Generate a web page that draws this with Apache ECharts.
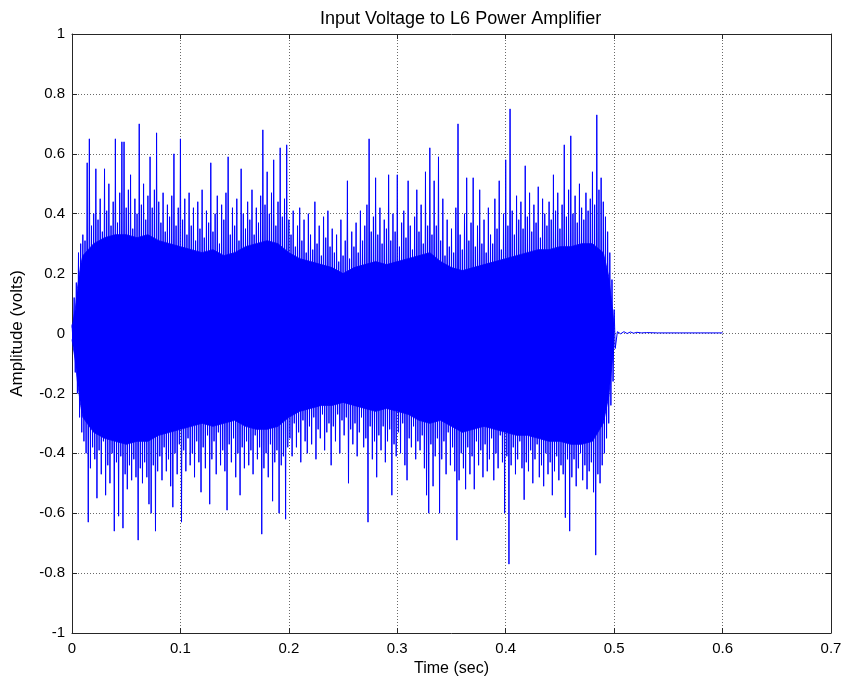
<!DOCTYPE html>
<html>
<head>
<meta charset="utf-8">
<script src="https://cdn.jsdelivr.net/npm/echarts@6/dist/echarts.min.js"></script>
<style>
html,body{margin:0;padding:0;background:#fff;}
#chart{width:846px;height:685px;}
</style>
</head>
<body>
<div id="chart"></div>
<script>
// Upper peaks of the signal, one every 2 ms starting at t = 0.000 s
const upperPeaks = [
  0.03,0.12,0.17,0.27,0.30,0.33,0.31,0.57,0.65,0.36,
  0.40,0.55,0.38,0.45,0.34,0.55,0.41,0.50,0.36,0.44,
  0.65,0.37,0.47,0.64,0.64,0.42,0.48,0.53,0.35,0.45,
  0.40,0.70,0.43,0.50,0.38,0.46,0.59,0.42,0.48,0.67,
  0.44,0.37,0.47,0.34,0.43,0.39,0.46,0.60,0.36,0.42,
  0.65,0.38,0.45,0.33,0.47,0.36,0.42,0.31,0.44,0.35,
  0.48,0.32,0.41,0.37,0.57,0.34,0.40,0.46,0.30,0.43,
  0.38,0.47,0.59,0.33,0.42,0.36,0.45,0.31,0.55,0.40,
  0.35,0.44,0.38,0.48,0.33,0.42,0.37,0.46,0.68,0.43,
  0.54,0.40,0.47,0.58,0.36,0.44,0.62,0.39,0.45,0.63,
  0.38,0.33,0.41,0.29,0.36,0.42,0.31,0.38,0.27,0.40,
  0.33,0.28,0.44,0.30,0.36,0.26,0.39,0.32,0.41,0.29,
  0.35,0.27,0.33,0.24,0.38,0.26,0.31,0.51,0.25,0.34,
  0.29,0.37,0.27,0.41,0.31,0.36,0.43,0.65,0.34,0.39,
  0.52,0.33,0.42,0.30,0.38,0.35,0.53,0.31,0.40,0.34,
  0.53,0.29,0.37,0.41,0.32,0.51,0.36,0.28,0.39,0.48,
  0.34,0.43,0.30,0.54,0.36,0.62,0.33,0.51,0.36,0.59,
  0.31,0.45,0.26,0.38,0.29,0.35,0.27,0.42,0.70,0.33,
  0.28,0.40,0.52,0.31,0.37,0.52,0.29,0.36,0.48,0.30,
  0.38,0.27,0.42,0.33,0.30,0.45,0.35,0.51,0.28,0.40,
  0.58,0.36,0.75,0.41,0.33,0.46,0.38,0.44,0.35,0.56,
  0.39,0.47,0.34,0.43,0.37,0.49,0.32,0.45,0.40,0.36,
  0.44,0.38,0.53,0.41,0.47,0.35,0.43,0.63,0.39,0.48,
  0.66,0.40,0.46,0.37,0.50,0.42,0.38,0.47,0.41,0.45,
  0.54,0.43,0.73,0.48,0.52,0.44,0.39,0.34,0.27,0.18
];
// Lower peaks of the signal, one every 2 ms starting at t = 0.001 s
const lowerPeaks = [
  -0.03,-0.13,-0.20,-0.28,-0.33,-0.36,-0.40,-0.63,-0.45,-0.38,
  -0.42,-0.55,-0.39,-0.47,-0.36,-0.54,-0.44,-0.50,-0.40,-0.66,
  -0.43,-0.61,-0.41,-0.65,-0.47,-0.52,-0.44,-0.49,-0.42,-0.48,
  -0.69,-0.45,-0.50,-0.43,-0.48,-0.57,-0.60,-0.44,-0.66,-0.46,
  -0.41,-0.49,-0.38,-0.46,-0.42,-0.51,-0.58,-0.40,-0.47,-0.37,
  -0.63,-0.39,-0.46,-0.35,-0.44,-0.40,-0.48,-0.36,-0.43,-0.53,
  -0.38,-0.45,-0.34,-0.57,-0.42,-0.36,-0.47,-0.33,-0.44,-0.39,
  -0.46,-0.59,-0.37,-0.43,-0.35,-0.48,-0.40,-0.54,-0.38,-0.45,
  -0.36,-0.44,-0.39,-0.47,-0.34,-0.42,-0.38,-0.67,-0.45,-0.40,
  -0.48,-0.37,-0.56,-0.43,-0.39,-0.60,-0.44,-0.41,-0.62,-0.38,
  -0.35,-0.41,-0.30,-0.38,-0.33,-0.43,-0.29,-0.36,-0.40,-0.31,
  -0.37,-0.28,-0.42,-0.32,-0.35,-0.27,-0.39,-0.33,-0.30,-0.44,
  -0.31,-0.36,-0.27,-0.40,-0.29,-0.34,-0.28,-0.50,-0.32,-0.37,
  -0.30,-0.41,-0.33,-0.28,-0.38,-0.35,-0.63,-0.31,-0.42,-0.36,
  -0.48,-0.34,-0.39,-0.31,-0.43,-0.36,-0.32,-0.54,-0.37,-0.41,
  -0.33,-0.40,-0.30,-0.44,-0.49,-0.35,-0.38,-0.31,-0.42,-0.36,
  -0.39,-0.34,-0.45,-0.54,-0.60,-0.37,-0.51,-0.41,-0.35,-0.60,
  -0.42,-0.36,-0.47,-0.33,-0.44,-0.38,-0.46,-0.69,-0.49,-0.40,
  -0.45,-0.52,-0.38,-0.47,-0.41,-0.52,-0.36,-0.44,-0.39,-0.48,
  -0.37,-0.46,-0.42,-0.35,-0.49,-0.40,-0.45,-0.34,-0.43,-0.60,
  -0.41,-0.77,-0.44,-0.38,-0.47,-0.42,-0.36,-0.45,-0.555,-0.43,
  -0.46,-0.39,-0.50,-0.42,-0.37,-0.48,-0.44,-0.51,-0.40,-0.47,
  -0.43,-0.54,-0.46,-0.41,-0.49,-0.44,-0.47,-0.615,-0.42,-0.66,
  -0.48,-0.42,-0.51,-0.45,-0.40,-0.49,-0.44,-0.52,-0.46,-0.43,
  -0.53,-0.74,-0.47,-0.50,-0.44,-0.40,-0.35,-0.30,-0.24,-0.16
];
const peakStep = 0.001;           // seconds between an upper and the next lower peak

// Dense (solid) core of the oscillation, read as an envelope
const coreTimes = [0, 0.003, 0.005, 0.008,
  0.01, 0.02, 0.03, 0.04, 0.05, 0.06, 0.07, 0.08, 0.09, 0.10,
  0.11, 0.12, 0.13, 0.14, 0.15, 0.16, 0.17, 0.18, 0.19, 0.20,
  0.21, 0.22, 0.23, 0.24, 0.25, 0.26, 0.27, 0.28, 0.29, 0.30,
  0.31, 0.32, 0.33, 0.34, 0.35, 0.36, 0.37, 0.38, 0.39, 0.40,
  0.41, 0.42, 0.43, 0.44, 0.45, 0.46, 0.47, 0.48, 0.49, 0.495, 0.50];
const coreTop = [0.02, 0.08, 0.15, 0.23,
  0.26, 0.30, 0.32, 0.33, 0.33, 0.32, 0.33, 0.31, 0.30, 0.29,
  0.28, 0.27, 0.28, 0.26, 0.27, 0.29, 0.30, 0.31, 0.30, 0.27,
  0.25, 0.24, 0.23, 0.22, 0.20, 0.22, 0.23, 0.24, 0.23, 0.24,
  0.25, 0.26, 0.27, 0.24, 0.22, 0.21, 0.22, 0.23, 0.24, 0.25,
  0.26, 0.27, 0.28, 0.28, 0.29, 0.29, 0.30, 0.30, 0.27, 0.19, 0.03];
const coreBottom = [-0.02, -0.09, -0.16, -0.24,
  -0.28, -0.33, -0.35, -0.36, -0.37, -0.36, -0.36, -0.34, -0.33, -0.32,
  -0.31, -0.30, -0.31, -0.30, -0.29, -0.31, -0.32, -0.32, -0.31, -0.28,
  -0.26, -0.25, -0.24, -0.24, -0.23, -0.24, -0.25, -0.26, -0.25, -0.26,
  -0.27, -0.29, -0.30, -0.29, -0.31, -0.33, -0.32, -0.31, -0.32, -0.33,
  -0.34, -0.34, -0.35, -0.36, -0.36, -0.37, -0.37, -0.36, -0.30, -0.21, -0.03];

// Decay after the signal stops
const tailTimes  = [0.500, 0.501, 0.503, 0.506, 0.509, 0.512, 0.515, 0.518, 0.521, 0.525, 0.530, 0.540, 0.560, 0.580, 0.600];
const tailValues = [0.08, -0.05, 0.006, -0.001, 0.006, 0.000, 0.005, 0.001, 0.004, 0.002, 0.003, 0.002, 0.002, 0.002, 0.002];

const xTicks = [0, 0.1, 0.2, 0.3, 0.4, 0.5, 0.6, 0.7];
const yTicks = [-1, -0.8, -0.6, -0.4, -0.2, 0, 0.2, 0.4, 0.6, 0.8, 1];

const signal = [];
for (let i = 0; i < upperPeaks.length; i++) {
  signal.push([+(2 * i * peakStep).toFixed(4), upperPeaks[i]]);
  signal.push([+((2 * i + 1) * peakStep).toFixed(4), lowerPeaks[i]]);
}
for (let i = 0; i < tailTimes.length; i++) signal.push([tailTimes[i], tailValues[i]]);
const coreUp = coreTimes.map((t, i) => [t, coreTop[i]]);
const coreDown = coreTimes.map((t, i) => [t, coreBottom[i]]);

const BLUE = '#0000ff';
const FONT = 'Liberation Sans, Arial, Helvetica, sans-serif';
const axisCol = '#262626';
const gridLine = { show: true, lineStyle: { color: '#6a6a6a', type: [1, 2], width: 1 } };

// the two halves overlap slightly around zero so no seam shows
const coreSeries = (data, origin) => ({
  type: 'line', xAxisIndex: 0, yAxisIndex: 0, data: data,
  showSymbol: false, symbol: 'none', silent: true,
  lineStyle: { color: BLUE, width: 0.8 },
  areaStyle: { color: BLUE, opacity: 1, origin: origin }, z: 2
});

const chart = echarts.init(document.getElementById('chart'), null, { renderer: 'canvas' });
chart.setOption({
  animation: false,
  backgroundColor: '#ffffff',
  title: {
    text: 'Input Voltage to L6 Power Amplifier',
    left: 315, top: 5,
    textStyle: { fontFamily: FONT, fontSize: 18, fontWeight: 'normal', color: '#000' }
  },
  grid: { left: 72, right: 15, top: 34, bottom: 52, containLabel: false },
  xAxis: [{
    type: 'value', min: xTicks[0], max: xTicks[xTicks.length - 1], interval: 0.1,
    name: 'Time (sec)', nameLocation: 'middle', nameGap: 27,
    nameTextStyle: { fontFamily: FONT, fontSize: 16, color: '#000' },
    axisLine: { show: true, onZero: false, lineStyle: { color: axisCol, width: 1 } },
    axisTick: { show: true, inside: true, length: 5, lineStyle: { color: axisCol } },
    axisLabel: { fontFamily: FONT, fontSize: 15, color: '#000', margin: 8 },
    splitLine: gridLine
  }, {
    type: 'value', position: 'top', min: xTicks[0], max: xTicks[xTicks.length - 1], interval: 0.1,
    axisLine: { show: true, onZero: false, lineStyle: { color: axisCol, width: 1 } },
    axisTick: { show: true, inside: true, length: 5, lineStyle: { color: axisCol } },
    axisLabel: { show: false }, splitLine: { show: false }
  }],
  yAxis: [{
    type: 'value', min: yTicks[0], max: yTicks[yTicks.length - 1], interval: 0.2,
    name: 'Amplitude (volts)', nameLocation: 'middle', nameGap: 46,
    nameTextStyle: { fontFamily: FONT, fontSize: 17, color: '#000' },
    axisLine: { show: true, onZero: false, lineStyle: { color: axisCol, width: 1 } },
    axisTick: { show: true, inside: true, length: 5, lineStyle: { color: axisCol } },
    axisLabel: { fontFamily: FONT, fontSize: 15, color: '#000', margin: 7,
      formatter: v => String(+v.toFixed(1)) },
    splitLine: gridLine
  }, {
    type: 'value', position: 'right', min: yTicks[0], max: yTicks[yTicks.length - 1], interval: 0.2,
    axisLine: { show: true, onZero: false, lineStyle: { color: axisCol, width: 1 } },
    axisTick: { show: true, inside: true, length: 5, lineStyle: { color: axisCol } },
    axisLabel: { show: false }, splitLine: { show: false }
  }],
  series: [
    coreSeries(coreUp, -0.02),
    coreSeries(coreDown, 0.02),
    {
      type: 'line', xAxisIndex: 0, yAxisIndex: 0,
      data: signal, showSymbol: false, symbol: 'none', sampling: null,
      lineStyle: { color: BLUE, width: 1 }, z: 3
    }
  ]
});
</script>
</body>
</html>
